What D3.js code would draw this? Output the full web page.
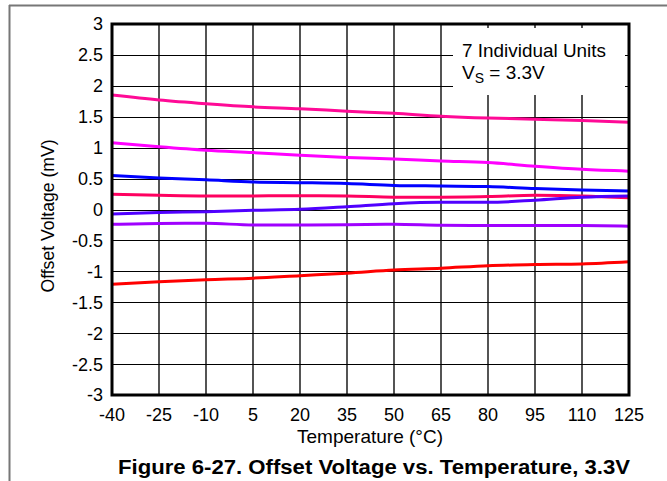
<!DOCTYPE html>
<html><head><meta charset="utf-8">
<script src="https://cdn.jsdelivr.net/npm/d3@7"></script>
<style>
body{margin:0;background:#fff;}
svg{display:block;}
text{font-family:"Liberation Sans",Arial,sans-serif;fill:#000;}
</style></head>
<body><svg id="c" width="667" height="481"></svg>
<script>
const temps = [-40,-25,-10,5,20,35,50,65,80,95,110,125];
const xTicks = [-40,-25,-10,5,20,35,50,65,80,95,110,125];
const yTicks = [-3,-2.5,-2,-1.5,-1,-0.5,0,0.5,1,1.5,2,2.5,3];
const unit1 = [1.85,1.77,1.71,1.66,1.63,1.59,1.555,1.51,1.48,1.46,1.44,1.41];
const unit2 = [1.08,1.016,0.96,0.92,0.877,0.84,0.817,0.785,0.76,0.70,0.65,0.62];
const unit3 = [0.55,0.51,0.48,0.445,0.434,0.42,0.39,0.38,0.37,0.34,0.315,0.30];
const unit4 = [0.245,0.23,0.22,0.22,0.223,0.22,0.20,0.20,0.21,0.23,0.22,0.19];
const unit5 = [-0.073,-0.05,-0.035,-0.013,0.003,0.045,0.094,0.116,0.116,0.15,0.20,0.22];
const unit6 = [-0.24,-0.225,-0.223,-0.25,-0.25,-0.245,-0.24,-0.256,-0.26,-0.26,-0.26,-0.27];
const unit7 = [-1.21,-1.17,-1.135,-1.11,-1.07,-1.03,-0.98,-0.95,-0.91,-0.89,-0.88,-0.845];
const seriesColors = ["#ff0a96","#ff00ff","#0000ff","#ff0060","#5000ff","#a000ff","#ff0000"];
const series = [unit1,unit2,unit3,unit4,unit5,unit6,unit7];

const svg = d3.select("#c");
const L=112,R=629,T=24,B=395;
const x = d3.scaleLinear().domain([-40,125]).range([L,R]);
const y = d3.scaleLinear().domain([-3,3]).range([B,T]);

// page frame
svg.append("line").attr("x1",9).attr("x2",667).attr("y1",5.5).attr("y2",5.5).attr("stroke","#777").attr("stroke-width",2);
svg.append("line").attr("x1",9.5).attr("x2",9.5).attr("y1",5).attr("y2",481).attr("stroke","#777").attr("stroke-width",2);

// grid
svg.append("g").selectAll("line").data(xTicks.slice(1,-1)).join("line")
  .attr("x1",d=>x(d)).attr("x2",d=>x(d)).attr("y1",T).attr("y2",B)
  .attr("stroke","#2a2a2a").attr("stroke-width",1.6);
svg.append("g").selectAll("line").data(yTicks.slice(1,-1)).join("line")
  .attr("x1",L).attr("x2",R).attr("y1",d=>Math.round(y(d))+0.5).attr("y2",d=>Math.round(y(d))+0.5)
  .attr("stroke","#000").attr("stroke-width",1.2);

// legend box
svg.append("rect").attr("x",453).attr("y",28).attr("width",172).attr("height",67).attr("fill","#fff");
svg.append("text").attr("x",462).attr("y",57).attr("font-size",19).attr("textLength",144)
  .attr("lengthAdjust","spacingAndGlyphs").text("7 Individual Units");
const lg2 = svg.append("text").attr("x",462).attr("y",79).attr("font-size",19);
lg2.append("tspan").text("V");
lg2.append("tspan").attr("font-size",14).attr("dy",4).text("S");
lg2.append("tspan").attr("dy",-4).text(" = 3.3V");

// lines
const line = d3.line().x((d,i)=>x(temps[i])).y(d=>y(d)).curve(d3.curveMonotoneX);
svg.append("g").selectAll("path").data(series).join("path")
  .attr("d",d=>line(d)).attr("fill","none")
  .attr("stroke",(d,i)=>seriesColors[i]).attr("stroke-width",3);

// frame
svg.append("rect").attr("x",L).attr("y",T).attr("width",R-L).attr("height",B-T)
  .attr("fill","none").attr("stroke","#000").attr("stroke-width",3);

// y tick labels
svg.append("g").selectAll("text").data(yTicks).join("text")
  .attr("x",103).attr("y",d=>y(d)).attr("dy","0.36em").attr("text-anchor","end")
  .attr("font-size",18).text(d=>d);
// x tick labels
svg.append("g").selectAll("text").data(xTicks).join("text")
  .attr("x",d=>x(d)).attr("y",421).attr("text-anchor","middle")
  .attr("font-size",18).text(d=>d);

svg.append("text").attr("x",370).attr("y",443).attr("text-anchor","middle").attr("font-size",18.5)
  .attr("textLength",146).attr("lengthAdjust","spacingAndGlyphs").text("Temperature (°C)");
svg.append("text").attr("transform","translate(54,216) rotate(-90)").attr("text-anchor","middle")
  .attr("font-size",19).attr("textLength",153).attr("lengthAdjust","spacingAndGlyphs").text("Offset Voltage (mV)");
svg.append("text").attr("x",374).attr("y",474).attr("text-anchor","middle").attr("font-size",20)
  .attr("font-weight","bold").attr("textLength",512).attr("lengthAdjust","spacingAndGlyphs")
  .text("Figure 6-27. Offset Voltage vs. Temperature, 3.3V");
</script></body></html>
